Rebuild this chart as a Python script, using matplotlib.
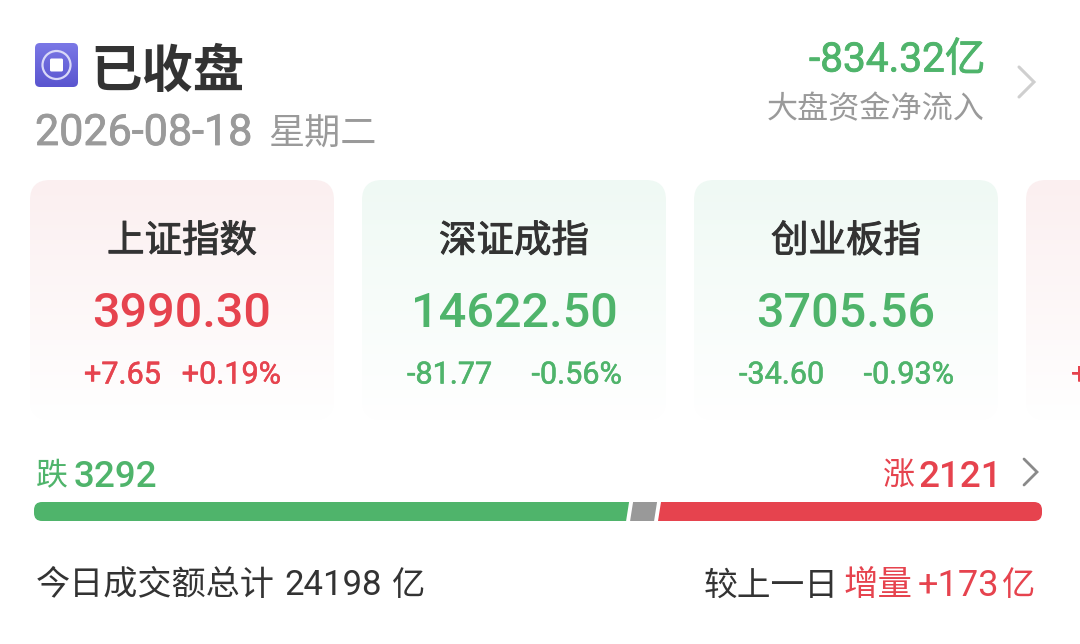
import numpy as np
from matplotlib import pyplot as plt
from matplotlib import patheffects
from matplotlib.colors import LinearSegmentedColormap
from matplotlib.patches import Circle, FancyBboxPatch, Polygon

plt.rcParams["font.family"] = ["Noto Sans CJK SC", "DejaVu Sans"]

index_names = ["上证指数", "深证成指", "创业板指"]
index_values = ["3990.30", "14622.50", "3705.56"]
index_changes = ["+7.65", "-81.77", "-34.60"]
index_pcts = ["+0.19%", "-0.56%", "-0.93%"]
fall_count = 3292
flat_count = 133  # not printed, read from the width of the grey piece
rise_count = 2121

GREEN = "#4fb46b"
RED = "#e6434e"
DARK = "#333333"
GREY = "#9a9a9a"
NUM = "Roboto"

fig = plt.figure(figsize=(10.8, 6.44), dpi=100)
ax = fig.add_axes([0, 0, 1, 1])
ax.set_xlim(0, 1080)
ax.set_ylim(644, 0)
ax.axis("off")


def gradient_box(x, y, w, h, top, bottom, radius):
    cmap = LinearSegmentedColormap.from_list("g", [top, bottom])
    grad = np.linspace(0, 1, 256).reshape(-1, 1)
    im = ax.imshow(grad, cmap=cmap, extent=[x, x + w, y + h, y], aspect="auto", zorder=1)
    clip = FancyBboxPatch((x + radius, y + radius), w - 2 * radius, h - 2 * radius,
                          boxstyle=f"round,pad={radius},rounding_size={radius}",
                          fc="none", ec="none", transform=ax.transData)
    ax.add_patch(clip)
    im.set_clip_path(clip)


def label(x, y, s, size, color, ha="left", weight="normal", family=None, stroke=0):
    t = ax.text(x, y, s, fontsize=size, color=color, ha=ha, va="center_baseline",
                fontweight=weight, family=family or ["Noto Sans CJK SC", "DejaVu Sans"], zorder=5)
    if stroke:
        # fake a medium weight, the CJK font only comes in regular and bold here
        t.set_path_effects([patheffects.withStroke(linewidth=stroke, foreground=color)])


def chevron(x, y, w, h, color, lw):
    ax.plot([x, x + w, x], [y - h, y, y + h], color=color, lw=lw, zorder=5,
            solid_capstyle="round", solid_joinstyle="miter")


# header
gradient_box(35, 43, 43, 44, "#7b78e6", "#5a55cf", 5)
ax.add_patch(Circle((56.5, 65), 14, fc="none", ec="#d9d8f8", lw=1.6, zorder=5))
ax.add_patch(FancyBboxPatch((50, 58.5), 13, 13, boxstyle="round,pad=0,rounding_size=1.5",
                            fc="white", ec="none", zorder=5))
label(90, 66, "已收盘", 37, DARK, weight="bold")
label(35, 129, "2026-08-18", 31, GREY, family=NUM, stroke=0.6)
label(268, 131, "星期二", 26, GREY)
label(985, 56, "-834.32亿", 29.2, GREEN, ha="right", family=[NUM, "Noto Sans CJK SC"], stroke=0.6)
label(985, 106, "大盘资金净流入", 22.4, GREY, ha="right")
chevron(1019, 82, 15, 15, "#cfcfcf", 2.2)

# index cards
card_x = [30, 362, 694]
for i in range(3):
    x = card_x[i]
    is_up = index_changes[i].startswith("+")
    col = RED if is_up else GREEN
    top = "#fbeff0" if is_up else "#eff9f4"
    gradient_box(x, 180, 304, 240, top, "#ffffff", 20)
    cx = x + 152
    half = 98 if is_up else 107
    label(cx, 237, index_names[i], 27, DARK, ha="center", stroke=0.7)
    label(cx, 309, index_values[i], 35, col, ha="center", family=NUM, weight="medium")
    label(cx - half, 372, index_changes[i], 22, col, family=NUM, stroke=0.4)
    label(cx + half + 1, 372, index_pcts[i], 22, col, ha="right", family=NUM, stroke=0.4)
# fourth card runs off the right edge
gradient_box(1026, 180, 304, 240, "#fbeff0", "#ffffff", 20)
label(1071, 372, "+", 22, RED, family=NUM, stroke=0.4)

# rise and fall bar
label(36, 473, "跌", 23, GREEN)
label(74, 473, str(fall_count), 26.5, GREEN, family=NUM, weight="medium")
label(1002, 473, str(rise_count), 26.5, RED, ha="right", family=NUM, weight="medium")
label(883, 473, "涨", 23, RED)
chevron(1024, 472, 13, 13, "#8a8a8a", 2)

bar_left, bar_right = 34, 1042
bar_top, bar_bot = 502, 521
gap = 4
total = fall_count + flat_count + rise_count
scale = (bar_right - bar_left - 2 * gap) / total
x1 = bar_left + fall_count * scale
x2 = x1 + gap + flat_count * scale
slant = 1.5


def bar_piece(a, b, color, round_left=False, round_right=False):
    pts = [(a + slant, bar_top), (b + slant, bar_top), (b - slant, bar_bot), (a - slant, bar_bot)]
    if round_left:
        ax.add_patch(FancyBboxPatch((a, bar_top), 20, bar_bot - bar_top,
                                    boxstyle="round,pad=0,rounding_size=8", fc=color, ec="none", zorder=3))
        pts[0] = (a + 10, bar_top)
        pts[3] = (a + 10, bar_bot)
    if round_right:
        ax.add_patch(FancyBboxPatch((b - 20, bar_top), 20, bar_bot - bar_top,
                                    boxstyle="round,pad=0,rounding_size=8", fc=color, ec="none", zorder=3))
        pts[1] = (b - 10, bar_top)
        pts[2] = (b - 10, bar_bot)
    ax.add_patch(Polygon(pts, closed=True, fc=color, ec="none", zorder=3))


bar_piece(bar_left, x1, GREEN, round_left=True)
bar_piece(x1 + gap, x2, "#999999")
bar_piece(x2 + gap, bar_right, RED, round_right=True)

# turnover line
label(36, 582, "今日成交额总计", 24.6, DARK)
label(284, 582, "24198", 25, DARK, family=NUM)
label(392, 582, "亿", 24, DARK)
label(704, 582, "较上一日", 24.3, DARK)
label(844, 582, "增量", 24.8, RED)
label(918, 582, "+173", 26, RED, family=NUM)
label(1002, 582, "亿", 24, RED)

fig.savefig("out.png", dpi=100)
